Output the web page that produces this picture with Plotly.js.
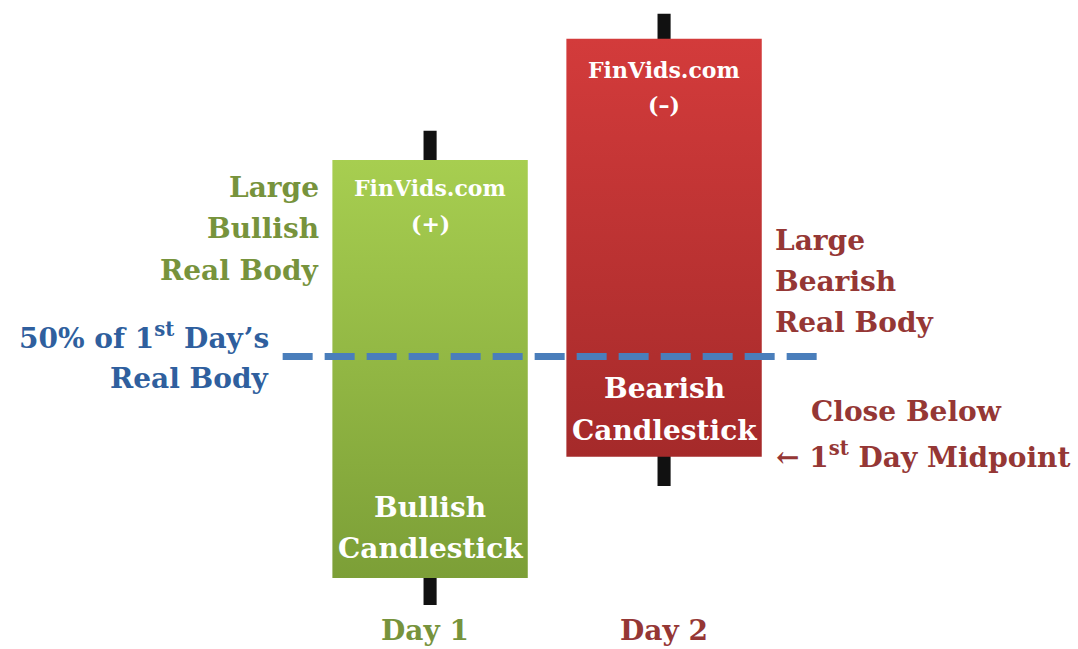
<!DOCTYPE html>
<html>
<head>
<meta charset="utf-8">
<script src="https://cdn.plot.ly/plotly-3.0.1.min.js"></script>
<style>
  html, body { margin: 0; padding: 0; background: #fff; }
  #chart { width: 1078px; height: 649px; }
</style>
</head>
<body>
<div id="chart"></div>
<script>
// candle values (arbitrary price units)
const days = [1, 2];
const dayLabels = ['Day 1', 'Day 2'];
const openP = [100, 229];
const closeP = [200, 129];
const highP = [207, 235];
const lowP = [93.5, 122];
const midLevel = 153;          // the dashed "50%" line as drawn
const midSpan = [0.37, 2.68];  // where the dashed line starts and ends

const GREEN = '#77933c';
const RED = '#953735';
const BLUE = '#2f5f9e';
const FONT = 'DejaVu Serif';

const wick = {
  type: 'bar',
  x: days,
  base: lowP,
  y: highP.map((h, i) => h - lowP[i]),
  width: 0.056,
  marker: { color: '#111111', line: { width: 0 } },
  hoverinfo: 'skip',
};

function body(i, color) {
  return {
    type: 'bar',
    x: [days[i]],
    base: [Math.min(openP[i], closeP[i])],
    y: [Math.abs(closeP[i] - openP[i])],
    width: 0.835,
    marker: { color: color, line: { width: 0 } },
    hoverinfo: 'skip',
  };
}

const midline = {
  type: 'scatter',
  mode: 'lines',
  x: midSpan,
  y: [midLevel, midLevel],
  line: { color: '#4a7ebb', width: 7, dash: '30px,12px' },
  hoverinfo: 'skip',
};

// text lines, placed in pixels of the 1078x649 page
const annotations = [];
function label(lines, px, py, dy, anchor, color, size) {
  lines.forEach((t, k) => {
    annotations.push({
      xref: 'paper', yref: 'paper',
      x: px / 1078, y: 1 - (py + k * dy) / 649,
      xanchor: anchor, yanchor: 'middle',
      text: t, showarrow: false,
      font: { family: FONT, size: size, color: color, weight: 'bold' },
    });
  });
}

label(['Large', 'Bullish', 'Real Body'], 321, 187, 41.5, 'right', GREEN, 28);
label(['50% of 1<sup>st</sup> Day\u2019s', 'Real Body'], 271, 336, 42, 'right', BLUE, 28);
label(['FinVids.com', '(+)'], 430, 188, 36, 'center', '#ffffff', 22);
label(['Bullish', 'Candlestick'], 430, 507, 41, 'center', '#ffffff', 28);
label(['FinVids.com', '(\u2013)'], 664, 70, 35, 'center', '#ffffff', 22);
label(['Bearish', 'Candlestick'], 664, 388, 42, 'center', '#ffffff', 28);
label(['Large', 'Bearish', 'Real Body'], 773, 240, 41.5, 'left', RED, 28);
label(['Close Below'], 906, 412, 0, 'center', RED, 28);
label(['\u2190 1<sup>st</sup> Day Midpoint'], 923, 455, 0, 'center', RED, 28);
label([dayLabels[0]], 425, 630, 0, 'center', GREEN, 28);
label([dayLabels[1]], 664, 630, 0, 'center', RED, 28);

const layout = {
  width: 1078,
  height: 649,
  margin: { t: 0, r: 0, b: 0, l: 0 },
  barmode: 'overlay',
  showlegend: false,
  xaxis: { range: [-0.838, 3.769], visible: false, fixedrange: true },
  yaxis: { range: [83, 238.3], visible: false, fixedrange: true },
  annotations: annotations,
  plot_bgcolor: '#ffffff',
  paper_bgcolor: '#ffffff',
};

const traces = [wick, body(0, '#93b844'), body(1, '#bd3232'), midline];

Plotly.newPlot('chart', traces, layout, { staticPlot: true }).then(gd => {
  // vertical gradients on the two bodies
  const ns = 'http://www.w3.org/2000/svg';
  const defs = gd.querySelector('.main-svg defs');
  function grad(id, top, bottom) {
    const g = document.createElementNS(ns, 'linearGradient');
    g.setAttribute('id', id);
    g.setAttribute('x1', '0'); g.setAttribute('y1', '0');
    g.setAttribute('x2', '0'); g.setAttribute('y2', '1');
    [[0, top], [1, bottom]].forEach(([o, c]) => {
      const s = document.createElementNS(ns, 'stop');
      s.setAttribute('offset', o);
      s.setAttribute('stop-color', c);
      g.appendChild(s);
    });
    defs.appendChild(g);
  }
  grad('gGreen', '#a7ce50', '#7c9f37');
  grad('gRed', '#d33b3b', '#a52a2a');
  const bars = gd.querySelectorAll('.barlayer .trace');
  bars[1].querySelectorAll('path').forEach(p => p.style.fill = 'url(#gGreen)');
  bars[2].querySelectorAll('path').forEach(p => p.style.fill = 'url(#gRed)');
});
</script>
</body>
</html>
